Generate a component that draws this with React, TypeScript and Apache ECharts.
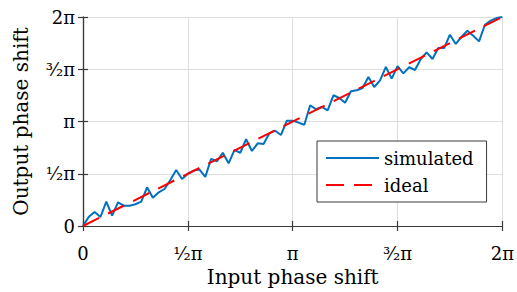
import React, { useEffect, useRef } from "react";
import * as echarts from "echarts";

// Phase values in units of π
const simulated: number[] = [
  0, 0.089, 0.134, 0.086, 0.233, 0.099, 0.227, 0.194, 0.194, 0.208,
  0.233, 0.37, 0.271, 0.322, 0.354, 0.44, 0.536, 0.45, 0.5, 0.53,
  0.54, 0.47, 0.643, 0.62, 0.701, 0.6, 0.727, 0.701, 0.83, 0.718,
  0.791, 0.785, 0.887, 0.912, 0.871, 1.008, 1.008, 0.989, 0.969, 1.155,
  1.117, 1.139, 1.107, 1.251, 1.225, 1.18, 1.289, 1.299, 1.321, 1.426,
  1.33, 1.394, 1.522, 1.41, 1.53, 1.461, 1.519, 1.493, 1.598, 1.662,
  1.598, 1.703, 1.703, 1.831, 1.742, 1.811, 1.869, 1.821, 1.767, 1.926,
  1.965, 1.99, 2.0,
];
const steps = 72;
const idealX: number[] = [0, 2];
const idealY: number[] = [0, 2];
const tickValues: number[] = [0, 0.5, 1, 1.5, 2];
const tickLabels: string[] = ["0", "¹⁄₂π", "π", "³⁄₂π", "2π"];

const FONT = "DejaVu Serif";

export default function App() {
  const ref = useRef<HTMLDivElement>(null);
  useEffect(() => {
    document.body.style.margin = "0";
    if (!ref.current) return;
    const chart = echarts.init(ref.current, undefined, { renderer: "svg" });
    const fmt = (v: number) => {
      const i = tickValues.findIndex((t) => Math.abs(t - v) < 1e-6);
      return i >= 0 ? tickLabels[i] : "";
    };
    const axisLine = { show: true, lineStyle: { color: "#3a3a3a", width: 1.2 } };
    const axisTick = { show: true, inside: true, length: 5, lineStyle: { color: "#3a3a3a", width: 1.2 } };
    const simData = simulated.map((v, i) => [(i * 2) / steps, v]);
    const idealData = idealX.map((x, i) => [x, idealY[i]]);
    chart.setOption({
      animation: false,
      backgroundColor: "#ffffff",
      grid: { left: 83, right: 12, top: 17, bottom: 66 },
      legend: {
        orient: "vertical",
        left: 317,
        top: 141,
        padding: [8, 13, 8, 8],
        itemWidth: 53,
        itemHeight: 14,
        itemGap: 9,
        backgroundColor: "#ffffff",
        borderColor: "#3a3a3a",
        borderWidth: 1,
        borderRadius: 0,
        itemStyle: { opacity: 0 },
        textStyle: { fontFamily: FONT, fontSize: 18, color: "#000" },
        data: ["simulated", "ideal"],
      },
      xAxis: [
        {
          type: "value",
          min: 0,
          max: 2,
          interval: 0.5,
          name: "Input phase shift",
          nameLocation: "middle",
          nameGap: 40,
          nameTextStyle: { fontFamily: FONT, fontSize: 20, color: "#000" },
          axisLine,
          axisTick,
          axisLabel: { formatter: fmt, margin: 18, fontFamily: FONT, fontSize: 18, color: "#000" },
          splitLine: { show: true, lineStyle: { color: "#dedede", width: 1 } },
        },
        {
          type: "value",
          position: "top",
          min: 0,
          max: 2,
          interval: 0.5,
          axisLine,
          axisTick,
          axisLabel: { show: false },
          splitLine: { show: false },
        },
      ],
      yAxis: [
        {
          type: "value",
          min: 0,
          max: 2,
          interval: 0.5,
          name: "Output phase shift",
          nameLocation: "middle",
          nameGap: 52,
          nameTextStyle: { fontFamily: FONT, fontSize: 20, color: "#000" },
          axisLine,
          axisTick,
          axisLabel: { formatter: fmt, margin: 8, fontFamily: FONT, fontSize: 18, color: "#000" },
          splitLine: { show: true, lineStyle: { color: "#dedede", width: 1 } },
        },
        {
          type: "value",
          position: "right",
          min: 0,
          max: 2,
          interval: 0.5,
          axisLine,
          axisTick,
          axisLabel: { show: false },
          splitLine: { show: false },
        },
      ],
      series: [
        {
          name: "simulated",
          type: "line",
          data: simData,
          showSymbol: false,
          symbol: "none",
          lineStyle: { color: "#0072BD", width: 2 },
          itemStyle: { color: "#0072BD" },
          z: 2,
        },
        {
          name: "ideal",
          type: "line",
          data: idealData,
          showSymbol: false,
          symbol: "none",
          lineStyle: { color: "#FF0000", width: 2, type: [18, 10] },
          itemStyle: { color: "#FF0000" },
          z: 3,
        },
      ],
    });
    return () => chart.dispose();
  }, []);
  return <div ref={ref} style={{ width: 517, height: 292 }} />;
}
